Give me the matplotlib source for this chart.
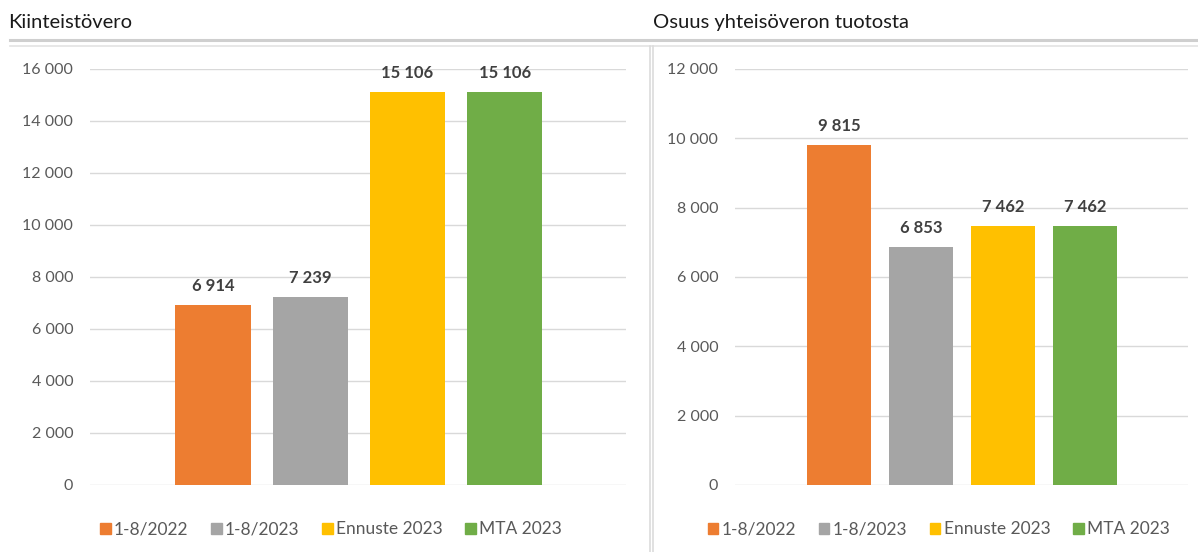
import matplotlib
matplotlib.use("Agg")
import matplotlib.pyplot as plt
from matplotlib.lines import Line2D
from matplotlib.patches import Patch
from matplotlib.ticker import FuncFormatter, MultipleLocator

plt.rcParams['font.family'] = ['Lato', 'DejaVu Sans']

series = ['1-8/2022', '1-8/2023', 'Ennuste 2023', 'MTA 2023']
colors = ['#ED7D31', '#A5A5A5', '#FFC000', '#70AD47']

title_left = 'Kiinteistövero'
values_left = [6914, 7239, 15106, 15106]

title_right = 'Osuus yhteisöveron tuotosta'
values_right = [9815, 6853, 7462, 7462]


def fmt(v, pos=None):
    return f"{v:,.0f}".replace(",", " ")


fig = plt.figure(figsize=(11.98, 5.52), dpi=100)


def panel(rect, vals, ymax, step, title, title_x):
    ax = fig.add_axes(rect)
    xs = range(len(vals))
    ax.bar(xs, vals, width=0.78, color=colors, zorder=3)
    for x, v in zip(xs, vals):
        ax.annotate(fmt(v), (x, v), xytext=(0, 8), textcoords='offset points',
                    ha='center', va='bottom', fontsize=12, fontweight='bold',
                    color='#404040')
    ax.set_xlim(-1.27, 4.25)
    ax.set_ylim(0, ymax)
    ax.yaxis.set_major_locator(MultipleLocator(step))
    ax.yaxis.set_major_formatter(FuncFormatter(fmt))
    ax.grid(axis='y', color='#D9D9D9', lw=1, zorder=0)
    ax.set_xticks([])
    for s in ax.spines.values():
        s.set_visible(False)
    ax.tick_params(axis='y', length=0, pad=12, labelsize=11.5, labelcolor='#595959')
    handles = [Patch(color=c, label=s) for c, s in zip(colors, series)]
    ax.legend(handles=handles, ncol=4, frameon=False, loc='upper center',
              bbox_to_anchor=(0.45, -0.05), fontsize=12.5, labelcolor='#595959',
              handlelength=0.6, handleheight=0.6, handletextpad=0.2,
              columnspacing=1.3)
    fig.text(title_x, 0.96, title, fontsize=14.5, color='#1a1a1a', va='center')
    return ax


panel([0.0751, 0.1214, 0.4474, 0.7536], values_left, 16000, 2000,
      title_left, 0.0067)
panel([0.6135, 0.1214, 0.3782, 0.7536], values_right, 12000, 2000,
      title_right, 0.545)

# frame lines
fig.add_artist(Line2D([0.0083, 1.0], [0.9275, 0.9275], color='#CFCFCF', lw=2.2))
fig.add_artist(Line2D([0.0083, 1.0], [0.9167, 0.9167], color='#E3E3E3', lw=1.2))
fig.add_artist(Line2D([0.5426, 0.5426], [0.0, 0.9167], color='#DCDCDC', lw=1.2))
fig.add_artist(Line2D([0.5451, 0.5451], [0.0, 0.9167], color='#DCDCDC', lw=1.2))

plt.savefig("out.png", dpi=100)
